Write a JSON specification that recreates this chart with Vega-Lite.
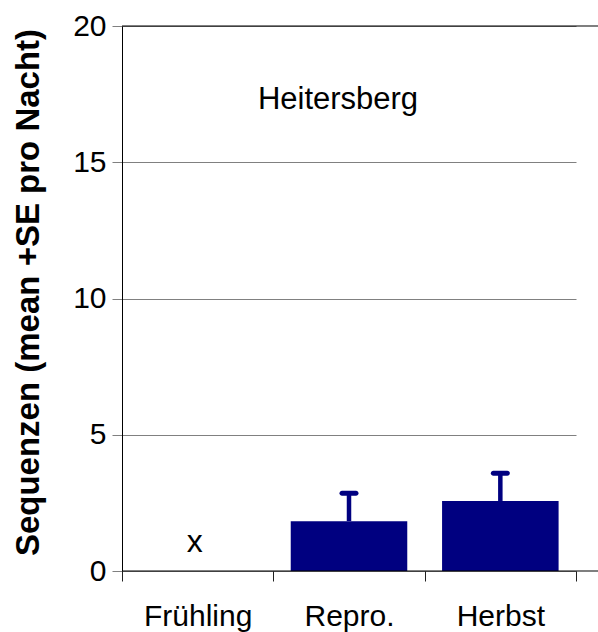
{
  "$schema": "https://vega.github.io/schema/vega-lite/v6.json",
  "width": 476,
  "height": 545,
  "autosize": {"type": "none"},
  "padding": {"left": 122, "top": 26, "right": 0, "bottom": 61},
  "background": "white",
  "config": {
    "view": {"stroke": null},
    "font": "Liberation Sans",
    "axis": {"labelFont": "Liberation Sans", "titleFont": "Liberation Sans"}
  },
  "datasets": {
    "bars": [
      {"season": "Frühling", "mean": null, "upper": null},
      {"season": "Repro.", "mean": 1.83, "upper": 2.85},
      {"season": "Herbst", "mean": 2.57, "upper": 3.59}
    ],
    "refs": [{"ref": 0}, {"ref": 20}],
    "marks": [{"season": "Frühling", "y": 1.06, "label": "x"}],
    "titles": [{"season": "Repro.", "y": 17.3, "label": "Heitersberg"}]
  },
  "encoding": {
    "x": {
      "field": "season",
      "type": "nominal",
      "sort": null,
      "scale": {"domain": ["Frühling", "Repro.", "Herbst"], "range": [0, 454], "paddingInner": 0, "paddingOuter": 0},
      "axis": {
        "title": null,
        "domain": false,
        "labelAngle": 0,
        "labelFontSize": 30,
        "labelColor": "black",
        "labelPadding": 20,
        "tickBand": "extent",
        "tickSize": 10,
        "tickColor": "#202020",
        "grid": false
      }
    }
  },
  "layer": [
    {
      "data": {"name": "bars"},
      "mark": {"type": "bar", "color": "#000080", "width": {"band": 0.77}},
      "encoding": {
        "y": {
          "field": "mean",
          "type": "quantitative",
          "scale": {"domain": [0, 20], "nice": false, "zero": true},
          "axis": {
            "values": [0, 5, 10, 15, 20],
            "grid": true,
            "gridColor": "#808080",
            "gridWidth": 1,
            "tickColor": "#808080",
            "tickSize": 10,
            "domainColor": "black",
            "labelFontSize": 30,
            "labelColor": "black",
            "labelPadding": 6,
            "title": "Sequenzen (mean +SE pro Nacht)",
            "titleFontSize": 33,
            "titleFontWeight": "bold",
            "titleColor": "black",
            "titleX": -94,
            "titleY": 266,
            "titleAngle": -90,
            "titleAlign": "center",
            "titleBaseline": "middle"
          }
        }
      }
    },
    {
      "data": {"name": "bars"},
      "mark": {"type": "rule", "color": "#000080", "strokeWidth": 4.5},
      "encoding": {
        "y": {"field": "mean", "type": "quantitative"},
        "y2": {"field": "upper"}
      }
    },
    {
      "data": {"name": "bars"},
      "mark": {"type": "tick", "color": "#000080", "opacity": 1, "orient": "horizontal", "size": 19, "thickness": 5, "cornerRadius": 2.5},
      "encoding": {
        "y": {"field": "upper", "type": "quantitative"}
      }
    },
    {
      "data": {"name": "refs"},
      "mark": {"type": "rule", "color": "black", "strokeWidth": 1.2},
      "encoding": {
        "x": null,
        "y": {"field": "ref", "type": "quantitative"}
      }
    },
    {
      "data": {"name": "marks"},
      "mark": {"type": "text", "fontSize": 32, "color": "black", "baseline": "middle", "align": "center", "dx": -3},
      "encoding": {
        "y": {"field": "y", "type": "quantitative"},
        "text": {"field": "label"}
      }
    },
    {
      "data": {"name": "titles"},
      "mark": {"type": "text", "fontSize": 31, "color": "black", "baseline": "middle", "align": "center", "dx": -11},
      "encoding": {
        "y": {"field": "y", "type": "quantitative"},
        "text": {"field": "label"}
      }
    }
  ]
}
